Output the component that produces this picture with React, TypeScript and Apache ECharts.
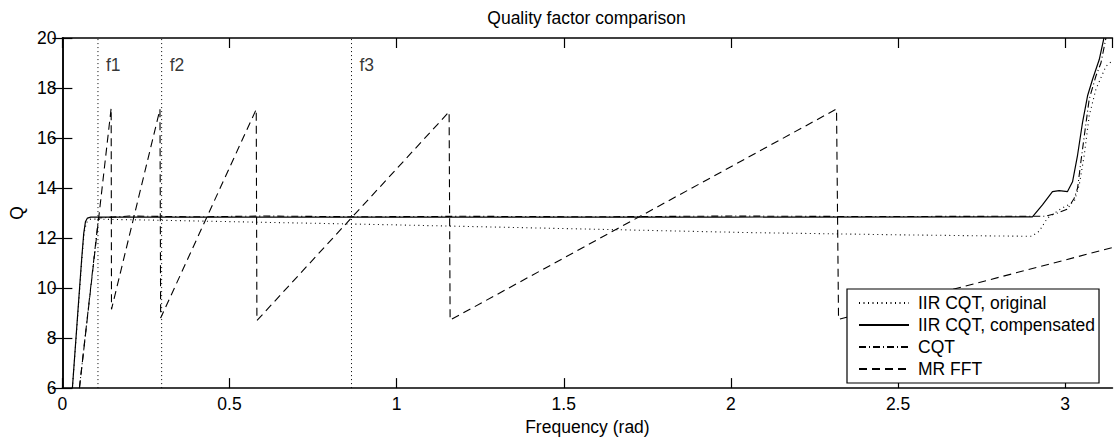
import React, { useEffect, useRef } from "react";
import * as echarts from "echarts";

// ---- data ----
const seriesNames = ["IIR CQT, original", "IIR CQT, compensated", "CQT", "MR FFT"];

const freqOrig = [0.030, 0.045, 0.058, 0.065, 0.072, 0.085, 0.3, 0.6, 0.95, 1.5, 2.05, 2.5, 2.75, 2.9, 2.922, 2.947, 2.985, 3.027, 3.042, 3.057, 3.072, 3.092, 3.122, 3.1416];
const qOrig = [6, 8.7, 11.1, 12.2, 12.62, 12.76, 12.71, 12.63, 12.54, 12.38, 12.22, 12.13, 12.09, 12.07, 12.27, 12.8, 13.15, 13.46, 14.12, 15.31, 16.9, 17.95, 18.87, 19.1];

const freqComp = [0.030, 0.045, 0.058, 0.064, 0.069, 0.075, 0.085, 1.0, 2.0, 2.902, 2.932, 2.962, 2.982, 3.007, 3.022, 3.037, 3.052, 3.067, 3.082, 3.102, 3.116];
const qComp = [6, 8.8, 11.2, 12.2, 12.65, 12.8, 12.84, 12.84, 12.84, 12.85, 13.33, 13.86, 13.9, 13.86, 14.25, 15.31, 16.63, 17.69, 18.35, 19.14, 20];

const freqCqt = [0.051, 0.108, 0.2, 0.4, 0.6, 0.9, 1.2, 1.6, 2.0, 2.4, 2.8, 2.94, 2.977, 3.007, 3.027, 3.037, 3.047, 3.06, 3.072, 3.092, 3.107, 3.122];
const qCqt = [6, 12.8, 12.88, 12.85, 12.88, 12.85, 12.87, 12.85, 12.88, 12.86, 12.87, 12.87, 13.0, 13.16, 13.59, 13.99, 15.05, 16.37, 17.56, 18.48, 19.0, 20];

const freqMr = [0.051, 0.146, 0.147, 0.292, 0.294, 0.580, 0.582, 1.157, 1.160, 2.316, 2.322, 3.1416];
const qMr = [6, 17.2, 9.15, 17.15, 8.8, 17.15, 8.7, 17.05, 8.72, 17.16, 8.75, 11.62];

const markerFreqs = [0.1065, 0.297, 0.865];
const markerNames = ["f1", "f2", "f3"];
const markerLabelQ = 18.94;

const xTicks = [0, 0.5, 1, 1.5, 2, 2.5, 3];
const yTicks = [6, 8, 10, 12, 14, 16, 18, 20];

const FONT = "'Liberation Sans', Arial, Helvetica, sans-serif";
const FS = 17.5;

const zip = (a: number[], b: number[]) => a.map((v, i) => [v, b[i]]);

export default function App() {
  const ref = useRef<HTMLDivElement>(null);
  useEffect(() => {
    document.body.style.margin = "0";
    const chart = echarts.init(ref.current!, null, { renderer: "svg" });
    const lineBase = {
      type: "line",
      symbol: "none",
      showSymbol: false,
      xAxisIndex: 0,
      yAxisIndex: 0,
      clip: true,
      itemStyle: { color: "#000" },
    };
    const axisCommon = {
      axisLine: { show: true, lineStyle: { color: "#000", width: 1.5 } },
      axisTick: { show: true, inside: true, length: 10, lineStyle: { color: "#000", width: 1.2 } },
      splitLine: { show: false },
    };
    const xFmt = (v: number) => (xTicks.some((t) => Math.abs(t - v) < 1e-9) ? String(v) : "");
    const option: any = {
      animation: false,
      backgroundColor: "#fff",
      textStyle: { fontFamily: FONT },
      title: {
        text: "Quality factor comparison",
        left: 586.5,
        top: 9,
        padding: 0,
        textAlign: "center",
        textStyle: { fontFamily: FONT, fontSize: FS, fontWeight: "normal", color: "#000" },
      },
      legend: {
        data: seriesNames,
        orient: "vertical",
        left: 847,
        top: 289,
        padding: [5, 4, 5, 11],
        itemWidth: 50,
        itemHeight: 14,
        itemGap: 4,
        selectedMode: false,
        backgroundColor: "#fff",
        borderColor: "#000",
        borderWidth: 1.2,
        borderRadius: 0,
        itemStyle: { color: "transparent", borderColor: "transparent", borderWidth: 0, opacity: 0 },
        textStyle: { fontFamily: FONT, fontSize: FS, color: "#000", lineHeight: 18, padding: [0, 0, 0, 4] },
      },
      grid: { left: 61, right: 1.5, top: 38, bottom: 49.5, containLabel: false },
      xAxis: [
        {
          type: "value",
          min: 0,
          max: Math.PI,
          interval: 0.5,
          position: "bottom",
          name: "Frequency (rad)",
          nameLocation: "middle",
          nameGap: 27,
          nameTextStyle: { fontFamily: FONT, fontSize: FS, color: "#000" },
          ...axisCommon,
          axisLabel: { show: true, margin: 7, color: "#000", fontFamily: FONT, fontSize: FS, formatter: xFmt, showMaxLabel: false },
        },
        {
          type: "value",
          min: 0,
          max: Math.PI,
          interval: 0.5,
          position: "top",
          ...axisCommon,
          axisLabel: { show: false },
        },
      ],
      yAxis: [
        {
          type: "value",
          min: 6,
          max: 20,
          interval: 2,
          position: "left",
          name: "Q",
          nameLocation: "middle",
          nameGap: 31,
          nameTextStyle: { fontFamily: FONT, fontSize: FS, color: "#000" },
          ...axisCommon,
          axisLabel: {
            show: true,
            margin: 6,
            color: "#000",
            fontFamily: FONT,
            fontSize: FS,
            formatter: (v: number) => (yTicks.includes(v) ? String(v) : ""),
          },
        },
        {
          type: "value",
          min: 6,
          max: 20,
          interval: 2,
          position: "right",
          ...axisCommon,
          axisLabel: { show: false },
        },
      ],
      series: [
        ...markerFreqs.map((f, i) => ({
          ...lineBase,
          name: "marker" + markerNames[i],
          silent: true,
          data: [[f, 6], [f, 20]],
          lineStyle: { color: "#000", width: 1, type: [1, 3] },
          z: 1,
        })),
        {
          type: "scatter",
          name: "markerLabels",
          silent: true,
          symbolSize: 0,
          itemStyle: { color: "#000" },
          data: markerFreqs.map((f, i) => ({ value: [f, markerLabelQ], name: markerNames[i] })),
          label: {
            show: true,
            position: "right",
            distance: 8,
            formatter: "{b}",
            color: "#000",
            fontFamily: FONT,
            fontSize: FS,
          },
        },
        {
          ...lineBase,
          name: seriesNames[0],
          data: zip(freqOrig, qOrig),
          lineStyle: { color: "#000", width: 1.1, type: [1, 3.5] },
        },
        {
          ...lineBase,
          name: seriesNames[1],
          data: zip(freqComp, qComp),
          lineStyle: { color: "#000", width: 1.2, type: "solid" },
        },
        {
          ...lineBase,
          name: seriesNames[2],
          data: zip(freqCqt, qCqt),
          lineStyle: { color: "#000", width: 1.1, type: [7, 3, 1, 3] },
        },
        {
          ...lineBase,
          name: seriesNames[3],
          data: zip(freqMr, qMr),
          lineStyle: { color: "#000", width: 1.1, type: [8, 5] },
        },
      ],
    };
    chart.setOption(option);
    return () => chart.dispose();
  }, []);
  return <div ref={ref} style={{ position: "absolute", left: 0, top: 0, width: 1114, height: 441 }} />;
}
